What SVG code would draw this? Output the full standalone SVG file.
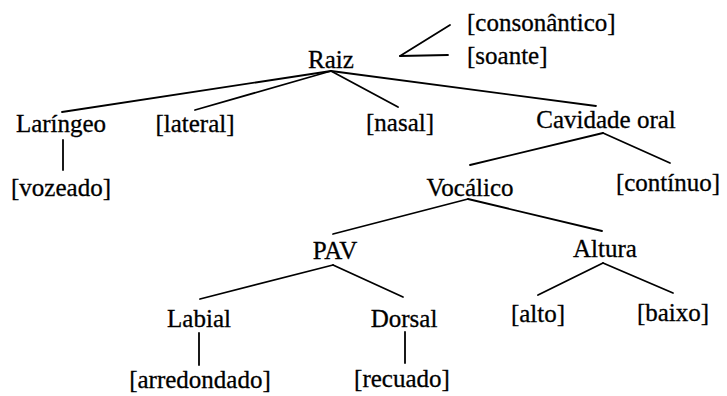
<svg xmlns="http://www.w3.org/2000/svg" width="727" height="396" viewBox="0 0 727 396">
<style>
text{font-family:'Liberation Serif','Times New Roman',Times,serif;font-size:25px;fill:#000;stroke:#000;stroke-width:0.3;text-anchor:middle}
.l{text-anchor:start}
line{stroke:#000;stroke-width:1.8;stroke-linecap:round}
</style>
<rect width="727" height="396" fill="#fff"/>
<g id="connectors">
<line x1="400" y1="56" x2="450" y2="25"/>
<line x1="400" y1="56" x2="448" y2="55"/>
<line x1="331" y1="71" x2="62" y2="112"/>
<line x1="331" y1="71" x2="195" y2="110"/>
<line x1="331" y1="71" x2="398" y2="107"/>
<line x1="331" y1="71" x2="596" y2="106"/>
<line x1="63" y1="140" x2="63" y2="170"/>
<line x1="603" y1="133" x2="470" y2="165"/>
<line x1="603" y1="133" x2="670" y2="163"/>
<line x1="468" y1="199" x2="333" y2="234"/>
<line x1="468" y1="199" x2="602" y2="231"/>
<line x1="333" y1="265" x2="200" y2="299"/>
<line x1="333" y1="265" x2="403" y2="297"/>
<line x1="199" y1="333" x2="199" y2="365"/>
<line x1="405" y1="332" x2="405" y2="363"/>
<line x1="603" y1="263" x2="538" y2="295"/>
<line x1="603" y1="263" x2="673" y2="293"/>
</g>
<g id="consonantico"><text class="l" x="467" y="31">[consonântico]</text></g>
<g id="soante"><text class="l" x="467" y="64">[soante]</text></g>
<g id="raiz"><text x="331" y="68">Raiz</text></g>
<g id="laringeo"><text x="61" y="132">Laríngeo</text></g>
<g id="lateral"><text x="195" y="132">[lateral]</text></g>
<g id="nasal"><text x="400" y="131">[nasal]</text></g>
<g id="cavidade"><text x="606" y="128">Cavidade oral</text></g>
<g id="vozeado"><text x="61" y="196">[vozeado]</text></g>
<g id="vocalico"><text x="470" y="196">Vocálico</text></g>
<g id="continuo"><text x="668" y="191">[contínuo]</text></g>
<g id="pav"><text x="335" y="259">PAV</text></g>
<g id="altura"><text x="605" y="257">Altura</text></g>
<g id="labial"><text x="199" y="327">Labial</text></g>
<g id="dorsal"><text x="404" y="327">Dorsal</text></g>
<g id="alto"><text x="538" y="322">[alto]</text></g>
<g id="baixo"><text x="673" y="321">[baixo]</text></g>
<g id="arredondado"><text x="200" y="388">[arredondado]</text></g>
<g id="recuado"><text x="402" y="387">[recuado]</text></g>
</svg>
